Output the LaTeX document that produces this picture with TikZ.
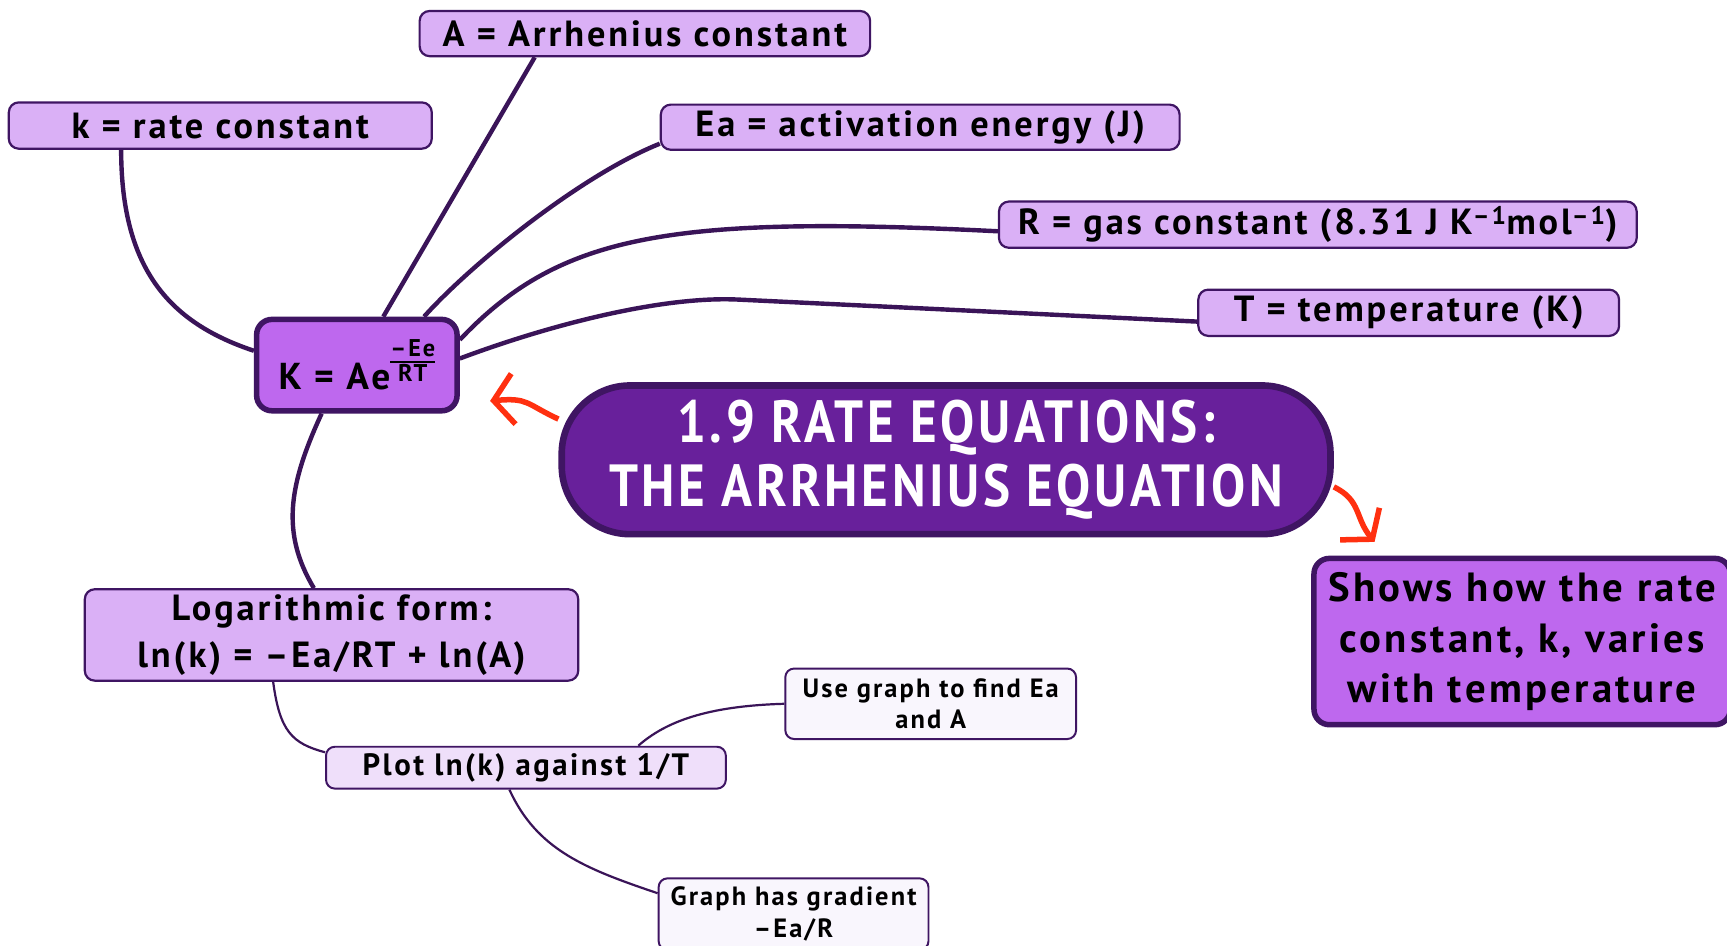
\documentclass[tikz,border=0pt]{standalone}
\usepackage{fontspec}
\usepackage{graphicx}
\setmainfont[LetterSpace=8]{PT Sans}
\newfontfamily\titlefont[FakeStretch=0.86,LetterSpace=6]{PT Sans}
\usetikzlibrary{arrows.meta}
\pgfdeclarelayer{bg}
\pgfsetlayers{bg,main}
\definecolor{lav}{HTML}{DAB0F6}
\definecolor{midp}{HTML}{BE68EE}
\definecolor{deep}{HTML}{68209B}
\definecolor{edgec}{HTML}{3F1563}
\definecolor{wirec}{HTML}{3A1458}
\definecolor{pale}{HTML}{EFDFFA}
\definecolor{paler}{HTML}{F9F6FD}
\definecolor{redarr}{HTML}{FF3010}
\tikzset{
  lbl/.style={draw=edgec, fill=lav, line width=2pt, rounded corners=9pt, inner sep=0pt, align=center,
    font=\fontsize{33}{37}\selectfont\bfseries},
  bigbox/.style={draw=edgec, fill=midp, line width=5pt, rounded corners=14pt, inner sep=0pt, align=center},
  smallbox/.style={draw=edgec, line width=1.8pt, rounded corners=8pt, inner sep=0pt, align=center},
  wire/.style={draw=wirec, line width=4pt},
  thinwire/.style={draw=wirec, line width=2pt},
  redarrow/.style={draw=redarr, line width=5pt, -{Straight Barb[length=18pt,width=46pt]}},
}
\begin{document}
\begin{tikzpicture}[x=1pt,y=1pt]
\useasboundingbox (0,0) rectangle (1568,858);
% label boxes
\node[lbl, minimum width=384pt, minimum height=42pt] (kb) at (200,744) {k = rate constant};
\node[lbl, minimum width=409pt, minimum height=41pt] (ab) at (585.5,827.5) {A = Arrhenius constant};
\node[lbl, minimum width=471pt, minimum height=41pt] (eab) at (835.5,742.5) {Ea = activation energy (J)};
\node[lbl, minimum width=579pt, minimum height=42pt] (rb) at (1196.5,654) {R = gas constant (8.31 J K\textsuperscript{–1}mol\textsuperscript{–1})};
\node[lbl, minimum width=382pt, minimum height=42pt] (tb) at (1279,574) {T = temperature (K)};
% formula box
\node[bigbox, minimum width=182pt, minimum height=83pt, font=\fontsize{34}{37}\selectfont\bfseries] (kf) at (324,526.5)
  {K = Ae\raisebox{18pt}{\fontsize{22}{22}\selectfont\setlength{\arrayrulewidth}{2pt}\setlength{\tabcolsep}{0pt}\begin{tabular}{c}–Ee\\[-3pt]\hline\noalign{\vskip1pt}RT\end{tabular}}};
% title
\node[draw=edgec, fill=deep, line width=6pt, rounded corners=62pt, minimum width=698pt, minimum height=135pt,
  inner sep=0pt, align=center, text=white, font=\titlefont\bfseries\fontsize{54}{58}\selectfont] (title) at (859,440.5)
  {1.9 RATE EQUATIONS:\\THE ARRHENIUS EQUATION};
% shows box
\node[bigbox, minimum width=378pt, minimum height=151pt, font=\fontsize{37}{46}\selectfont\bfseries] (shows) at (1382,275.5)
  {Shows how the rate\\constant, k, varies\\with temperature};
% log box
\node[lbl, minimum width=448pt, minimum height=83pt, font=\fontsize{33}{42}\selectfont\bfseries] (log) at (301,281.5)
  {Logarithmic form:\\ln(k) = –Ea/RT + ln(A)};
% lower boxes
\node[smallbox, fill=pale, minimum width=363pt, minimum height=38pt, font=\fontsize{28}{30}\selectfont\bfseries] (plot) at (477.5,161)
  {Plot ln(k) against 1/T};
\node[smallbox, fill=paler, minimum width=264pt, minimum height=64pt, font=\fontsize{24}{28}\selectfont\bfseries] (use) at (845,219)
  {Use graph to find Ea\\and A};
\node[smallbox, fill=paler, minimum width=245pt, minimum height=65pt, font=\fontsize{24}{29}\selectfont\bfseries] (grad) at (720.5,28)
  {Graph has gradient\\–Ea/R};
\coordinate (bend) at (670,586);
\coordinate (lt) at (445,494);
\coordinate (rt) at (1248,366);
\begin{pgfonlayer}{bg}
\fill[white] (0,0) rectangle (1568,858);
\draw[wire] ([xshift=-90pt]kb.south) .. controls +(0,-110) and +(-75,25) .. ([yshift=13pt]kf.west);
\draw[wire] ([xshift=24pt]kf.north) -- ([xshift=-100pt]ab.south);
\draw[wire] ([xshift=61pt]kf.north) .. controls +(45,50) and +(-70,-28) .. ([yshift=-15pt]eab.west);
\draw[wire] ([yshift=23pt]kf.east) .. controls +(90,95) and +(-300,15) .. ([yshift=-6pt]rb.west);
\draw[wire] ([yshift=6pt]kf.east) .. controls +(80,30) and +(-70,3.3) .. (bend) -- ([yshift=-8pt]tb.west);
\draw[wire] ([xshift=-32pt]kf.south) .. controls +(-30,-65) and +(-30,50) .. ([xshift=-16pt]log.north);
\draw[thinwire] ([xshift=-53pt]log.south) .. controls +(6,-45) and +(-30,8) .. ([yshift=14pt]plot.west);
\draw[thinwire] ([xshift=102pt]plot.north) .. controls +(25,22) and +(-70,-2) .. (use.west);
\draw[thinwire] ([xshift=-15pt]plot.south) .. controls +(25,-55) and +(-65,22) .. ([yshift=19pt]grad.west);
\draw[redarrow] (title.174) .. controls +(-30,14) and +(35,3) .. (lt);
\draw[redarrow] (title.-4) .. controls +(25,-12) and +(-18,22) .. (rt);
\end{pgfonlayer}
\end{tikzpicture}
\end{document}
